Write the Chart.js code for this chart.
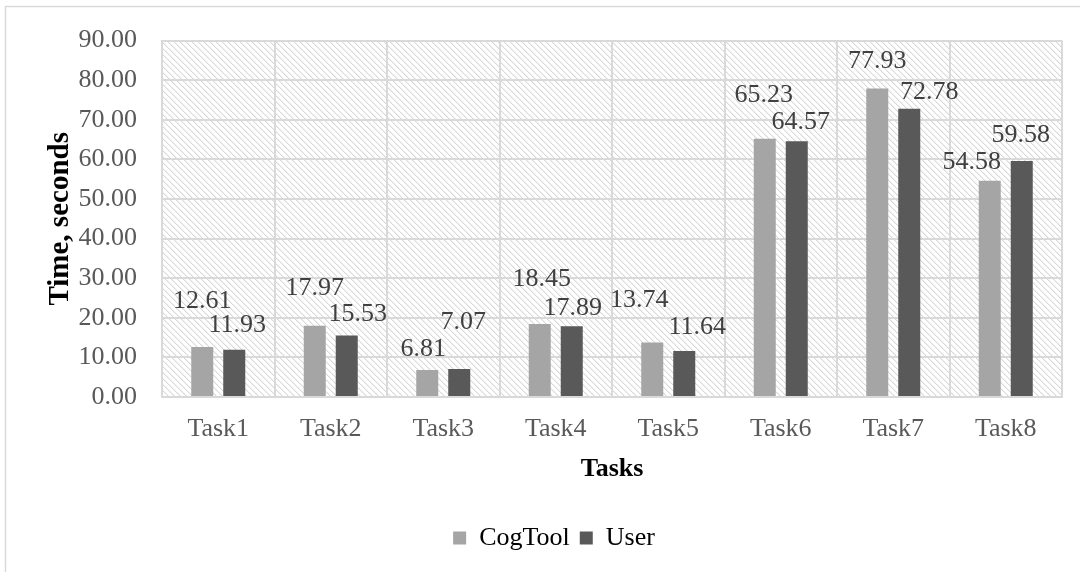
<!DOCTYPE html>
<html>
<head>
<meta charset="utf-8">
<script src="https://cdn.jsdelivr.net/npm/chart.js@4/dist/chart.umd.min.js"></script>
<style>
  html, body { margin: 0; padding: 0; background: #ffffff; }
  #wrap { width: 1080px; height: 572px; position: relative; }
</style>
</head>
<body>
<div id="wrap"><canvas id="c" width="1080" height="572"></canvas></div>
<script>
// Task completion times (seconds)
const categories = ['Task1', 'Task2', 'Task3', 'Task4', 'Task5', 'Task6', 'Task7', 'Task8'];
const cogToolTimes = [12.61, 17.97, 6.81, 18.45, 13.74, 65.23, 77.93, 54.58];
const userTimes = [11.93, 15.53, 7.07, 17.89, 11.64, 64.57, 72.78, 59.58];
const seriesNames = ['CogTool', 'User'];
const yTickMax = 90;
const yTickStep = 10;

const SERIF = '"Liberation Serif", "Times New Roman", serif';
const GRID = '#d9d9d9';

// light diagonal hatch used behind the plot
function makeHatch() {
  const t = document.createElement('canvas');
  t.width = 6; t.height = 6;
  const g = t.getContext('2d');
  g.fillStyle = '#ffffff';
  g.fillRect(0, 0, 6, 6);
  for (let y = 0; y < 6; y++) {
    for (let x = 0; x < 6; x++) {
      const d = ((x - y) % 6 + 6) % 6;
      if (d === 0) { g.fillStyle = '#d8d8d8'; g.fillRect(x, y, 1, 1); }
      else if (d === 1) { g.fillStyle = '#f0f0f0'; g.fillRect(x, y, 1, 1); }
    }
  }
  return t;
}

const hatchPlugin = {
  id: 'hatchBackground',
  beforeDraw(chart) {
    const { ctx, chartArea: a } = chart;
    ctx.save();
    ctx.fillStyle = ctx.createPattern(makeHatch(), 'repeat');
    ctx.fillRect(a.left, a.top, a.right - a.left, a.bottom - a.top);
    // outer frame of the chart object
    ctx.strokeStyle = GRID;
    ctx.lineWidth = 1.5;
    ctx.beginPath();
    ctx.moveTo(5.5, chart.height + 2);
    ctx.lineTo(5.5, 6.5);
    ctx.lineTo(chart.width + 2, 6.5);
    ctx.stroke();
    ctx.restore();
  }
};

// value labels placed above each bar
const valueLabels = {
  id: 'valueLabels',
  afterDatasetsDraw(chart, args, opts) {
    const { ctx } = chart;
    ctx.save();
    ctx.font = '26px ' + SERIF;
    ctx.fillStyle = '#404040';
    ctx.textAlign = 'center';
    ctx.textBaseline = 'middle';
    chart.data.datasets.forEach((ds, i) => {
      const meta = chart.getDatasetMeta(i);
      meta.data.forEach((bar, j) => {
        const sh = opts.shift[i][j];
        ctx.fillText(ds.data[j].toFixed(2), bar.x + sh[0], bar.y - sh[1]);
      });
    });
    ctx.restore();
  }
};

new Chart(document.getElementById('c'), {
  type: 'bar',
  data: {
    labels: categories,
    datasets: [
      { label: seriesNames[0], data: cogToolTimes, backgroundColor: '#a5a5a5' },
      { label: seriesNames[1], data: userTimes, backgroundColor: '#595959' }
    ]
  },
  options: {
    responsive: false,
    animation: false,
    devicePixelRatio: 1,
    categoryPercentage: 0.569,
    barPercentage: 0.6875,
    layout: { padding: { left: 46, right: 18, top: 35, bottom: 11 } },
    scales: {
      x: {
        grid: { color: GRID, lineWidth: 2, offset: true, drawTicks: false },
        border: { color: GRID, width: 2 },
        ticks: { color: '#595959', font: { family: SERIF, size: 26 }, padding: 17, maxRotation: 0 },
        title: {
          display: true, text: 'Tasks', color: '#000000',
          font: { family: SERIF, size: 26, weight: 'bold', lineHeight: 1.2 },
          padding: { top: 0, bottom: 30 }
        },
        afterFit(s) { s.height = 118; }
      },
      y: {
        min: 0, max: yTickMax,
        grid: { color: GRID, lineWidth: 2, drawTicks: false },
        border: { color: GRID, width: 2 },
        ticks: {
          stepSize: yTickStep, color: '#595959', padding: 25,
          font: { family: SERIF, size: 26 },
          callback: v => Number(v).toFixed(2)
        },
        title: {
          display: true, text: 'Time, seconds', color: '#000000',
          font: { family: SERIF, size: 29, weight: 'bold', lineHeight: 1.0 },
          padding: { top: 0, bottom: 0 }
        },
        afterFit(s) { s.width = 116; }
      }
    },
    plugins: {
      legend: {
        position: 'bottom',
        labels: {
          color: '#000000', font: { family: SERIF, size: 26 },
          boxWidth: 13, boxHeight: 13, padding: 10
        }
      },
      tooltip: { enabled: false },
      valueLabels: {
        shift: [
          [[0, 46], [0, 38], [-4, 21], [2, 45], [-13, 42], [-1, 44], [0, 27], [-18, 19]],
          [[3, 25], [11, 21], [4, 47], [1, 18], [13, 24], [4, 19], [20, 17], [-1, 26]]
        ]
      }
    }
  },
  plugins: [hatchPlugin, valueLabels]
});
</script>
</body>
</html>
